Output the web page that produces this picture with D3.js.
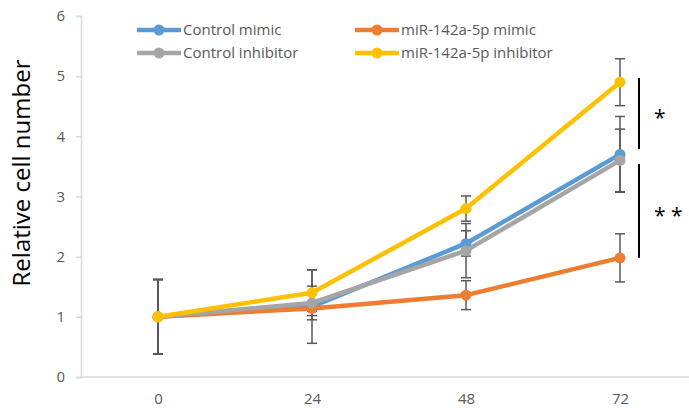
<!DOCTYPE html>
<html>
<head>
<meta charset="utf-8">
<script src="https://cdn.jsdelivr.net/npm/d3@7"></script>
<style>
  body { margin: 0; background: #fff; }
  text { font-family: 'Open Sans', 'Noto Sans', sans-serif; }
</style>
</head>
<body>
<div id="chart"></div>
<script>
const hours = ['0', '24', '48', '72'];
const seriesNames = ['Control mimic', 'miR-142a-5p mimic', 'Control inhibitor', 'miR-142a-5p inhibitor'];
const controlMimic = [1, 1.17, 2.22, 3.7];
const mirMimic = [1, 1.14, 1.36, 1.98];
const controlInhibitor = [1, 1.23, 2.1, 3.6];
const mirInhibitor = [1, 1.4, 2.8, 4.9];
const controlMimicErr = [0.62, 0.61, 0.21, 0.63];
const mirMimicErr = [0.62, 0.05, 0.24, 0.4];
const controlInhibitorErr = [0.62, 0.28, 0.45, 0.52];
const mirInhibitorErr = [0.62, 0.38, 0.21, 0.39];
const yTicks = [0, 1, 2, 3, 4, 5, 6];
const colors = ['#5B9BD5', '#ED7D31', '#A5A5A5', '#FFC000'];
// significance brackets at 72 h: [top, bottom, label]
const sigBrackets = [[4.97, 3.79, '*'], [3.54, 1.98, '* *']];

const width = 689;
const height = 408;
const margins = { top: 16, bottom: 31, left: 81, right: -8 };

const svg = d3.select('#chart').append('svg')
  .attr('width', width)
  .attr('height', height);

const xScale = d3.scalePoint()
  .domain(hours)
  .range([margins.left, width - margins.right])
  .padding(0.5);

const yScale = d3.scaleLinear()
  .domain([0, 6])
  .range([height - margins.bottom, margins.top]);

// y axis
const yAxis = d3.axisLeft(yScale)
  .tickValues(yTicks)
  .tickFormat(d3.format('d'))
  .tickSize(5)
  .tickPadding(11);

const yG = svg.append('g')
  .attr('transform', `translate(${margins.left},0)`)
  .call(yAxis);
yG.select('.domain').attr('stroke', '#d9d9d9').attr('stroke-width', 1.5);
yG.selectAll('.tick line').attr('stroke', '#d9d9d9').attr('stroke-width', 1.5);
yG.selectAll('.tick text')
  .style('font-size', '15px')
  .attr('fill', '#595959');

// x axis
const xAxis = d3.axisBottom(xScale)
  .tickSize(0)
  .tickPadding(16);

const xG = svg.append('g')
  .attr('transform', `translate(0,${height - margins.bottom})`)
  .call(xAxis);
xG.select('.domain').attr('stroke', '#d9d9d9').attr('stroke-width', 1.5)
  .attr('d', `M${margins.left},0H${width}`);
xG.selectAll('.tick text')
  .style('font-size', '15px')
  .attr('fill', '#595959');

// y label
svg.append('text')
  .attr('transform', 'translate(30,173) rotate(-90)')
  .attr('text-anchor', 'middle')
  .style('font-size', '24px')
  .attr('fill', '#000')
  .text('Relative cell number');

const series = [
  { values: controlMimic, err: controlMimicErr },
  { values: mirMimic, err: mirMimicErr },
  { values: controlInhibitor, err: controlInhibitorErr },
  { values: mirInhibitor, err: mirInhibitorErr }
];

// error bars
const errGroup = svg.append('g');
series.forEach((s) => {
  s.values.forEach((v, i) => {
    const x = xScale(hours[i]);
    const y1 = yScale(v + s.err[i]);
    const y2 = yScale(v - s.err[i]);
    errGroup.append('line')
      .attr('x1', x).attr('x2', x).attr('y1', y1).attr('y2', y2)
      .attr('stroke', '#595959').attr('stroke-width', 1.5);
    [y1, y2].forEach((yy) => {
      errGroup.append('line')
        .attr('x1', x - 5).attr('x2', x + 5).attr('y1', yy).attr('y2', yy)
        .attr('stroke', '#595959').attr('stroke-width', 1.5);
    });
  });
});

// lines and markers
const line = d3.line()
  .x((d, i) => xScale(hours[i]))
  .y((d) => yScale(d));

series.forEach((s, k) => {
  svg.append('path')
    .datum(s.values)
    .attr('d', line)
    .attr('fill', 'none')
    .attr('stroke', colors[k])
    .attr('stroke-width', 4.5)
    .attr('stroke-linejoin', 'round');
  svg.append('g').selectAll('circle')
    .data(s.values)
    .join('circle')
    .attr('cx', (d, i) => xScale(hours[i]))
    .attr('cy', (d) => yScale(d))
    .attr('r', 5.5)
    .attr('fill', colors[k]);
});

// significance brackets
const bx = xScale('72') + 19;
sigBrackets.forEach((b) => {
  svg.append('line')
    .attr('x1', bx).attr('x2', bx)
    .attr('y1', yScale(b[0])).attr('y2', yScale(b[1]))
    .attr('stroke', '#000').attr('stroke-width', 2);
  svg.append('text')
    .attr('x', bx + 15)
    .attr('y', (yScale(b[0]) + yScale(b[1])) / 2 + 12)
    .attr('text-anchor', 'start')
    .style('font-size', '21px')
    .attr('fill', '#000')
    .text(b[2]);
});

// legend
const legendPos = [[137, 30], [355, 30], [137, 53], [355, 53]];
seriesNames.forEach((name, k) => {
  const [lx, ly] = legendPos[k];
  const g = svg.append('g').attr('transform', `translate(${lx},${ly})`);
  g.append('line')
    .attr('x1', 0).attr('x2', 44).attr('y1', 0).attr('y2', 0)
    .attr('stroke', colors[k]).attr('stroke-width', 4.5);
  g.append('circle')
    .attr('cx', 22).attr('cy', 0).attr('r', 5.5)
    .attr('fill', colors[k]);
  g.append('text')
    .attr('x', 46)
    .attr('y', 5)
    .style('font-size', '15px')
    .attr('fill', '#595959')
    .text(name);
});
</script>
</body>
</html>
